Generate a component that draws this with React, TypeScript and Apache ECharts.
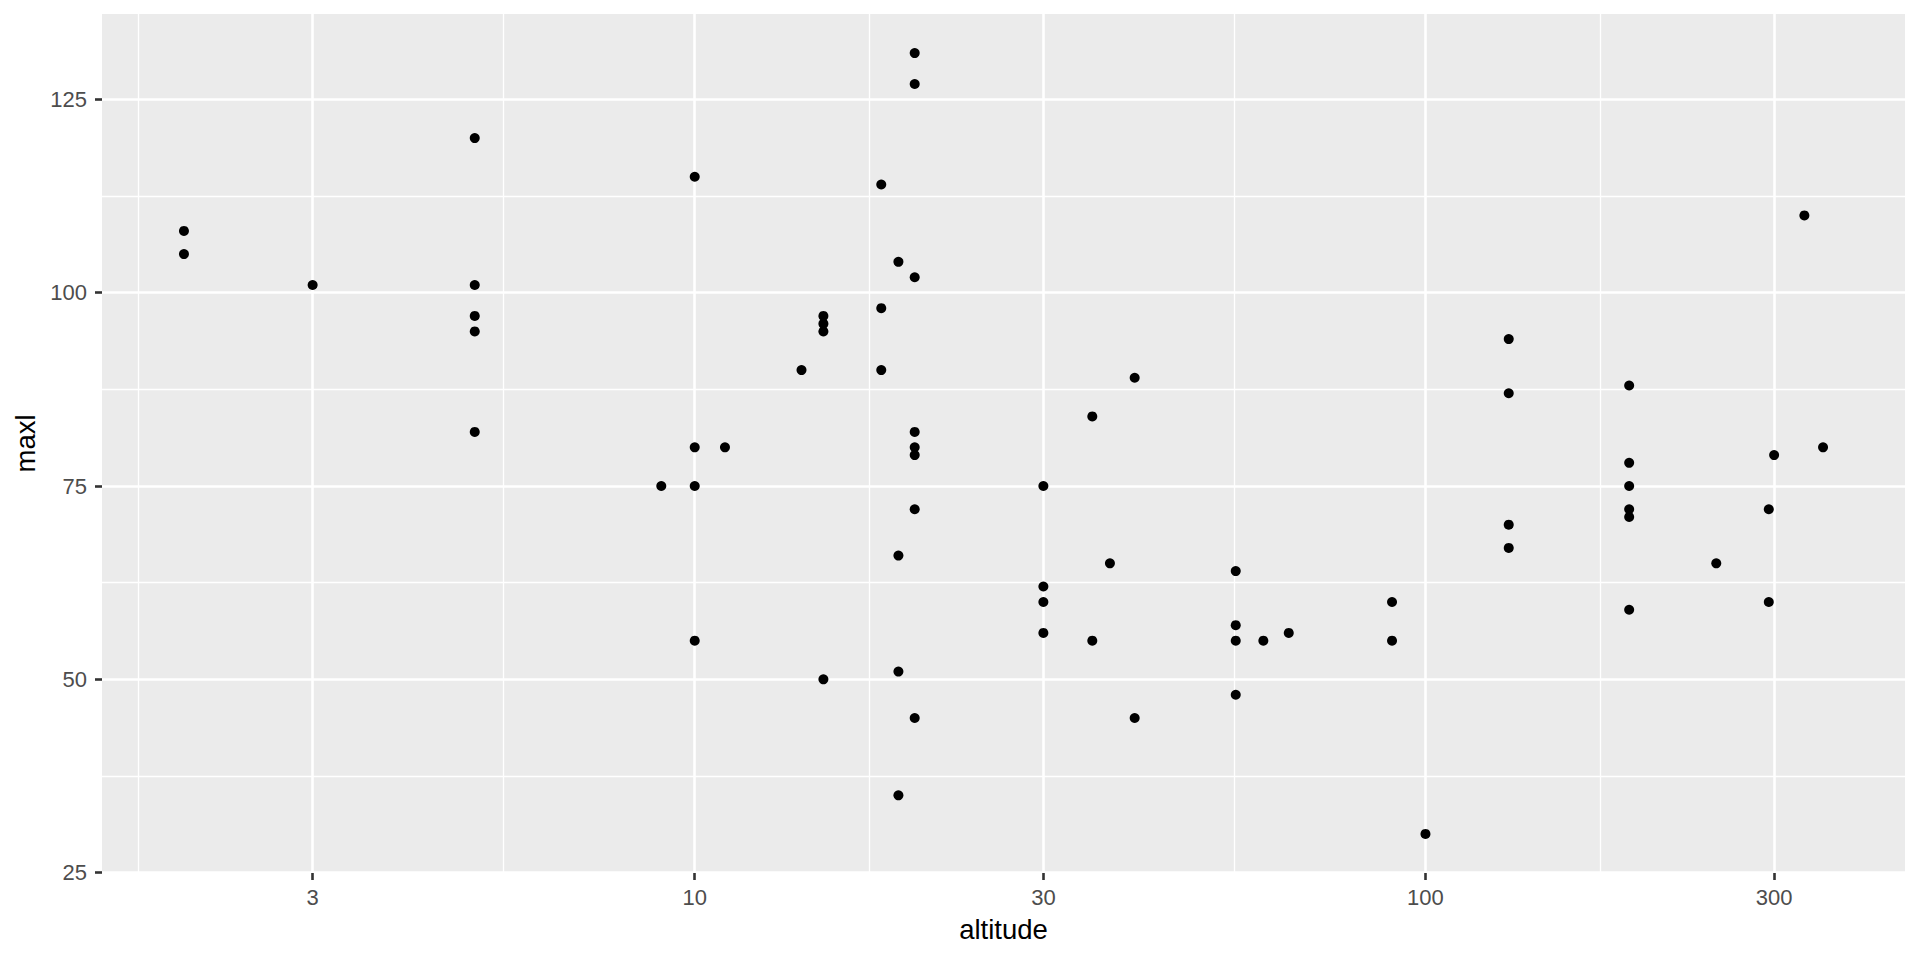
import React, { useEffect, useRef } from "react";
import * as echarts from "echarts";

// ---- data ----
const altitude = [
  2, 2, 3, 5, 5, 5, 5, 5, 9, 10, 10, 10, 10, 11, 14, 15, 15, 15, 15, 18, 18, 18,
  19, 19, 19, 19, 20, 20, 20, 20, 20, 20, 20, 20, 30, 30, 30, 30, 35, 35, 37, 40,
  40, 55, 55, 55, 55, 60, 65, 90, 90, 100, 130, 130, 130, 130, 190, 190, 190, 190,
  190, 190, 250, 295, 295, 300, 330, 350,
];
const maxl = [
  108, 105, 101, 120, 101, 97, 95, 82, 75, 115, 80, 75, 55, 80, 90, 97, 96, 95, 50,
  114, 98, 90, 104, 66, 51, 35, 131, 127, 102, 82, 80, 79, 72, 45, 75, 62, 60, 56,
  84, 55, 65, 89, 45, 64, 57, 55, 48, 55, 56, 60, 55, 30, 94, 87, 70, 67, 88, 78,
  75, 72, 71, 59, 65, 72, 60, 79, 110, 80,
];
const xTickLabels = [3, 10, 30, 100, 300];
// full break sequence (incl. out-of-range 1 and 1000) used for minor grid lines
const xBreakSeq = [1, 3, 10, 30, 100, 300, 1000];
const yTickLabels = [25, 50, 75, 100, 125];
const yBreakSeq = [25, 50, 75, 100, 125, 150];

const FONT = "'Liberation Sans', Arial, sans-serif";

export default function App() {
  const ref = useRef<HTMLDivElement>(null);

  useEffect(() => {
    if (!ref.current) return;
    const chart = echarts.init(ref.current, undefined, { renderer: "svg" });

    // log10 transform of x (like scale_x_log10)
    const lx = altitude.map((a) => Math.log10(a));
    const xLo = Math.min(...lx);
    const xHi = Math.max(...lx);
    const xPad = (xHi - xLo) * 0.05;
    const xMin = xLo - xPad;
    const xMax = xHi + xPad;
    const yLo = Math.min(...maxl);
    const yHi = Math.max(...maxl);
    const yPad = (yHi - yLo) * 0.05;
    const yMin = yLo - yPad;
    const yMax = yHi + yPad;

    const xMajor = xTickLabels.map((v) => Math.log10(v));
    const xSeqLog = xBreakSeq.map((v) => Math.log10(v));
    const xMinor: number[] = [];
    for (let i = 0; i < xSeqLog.length - 1; i++) {
      const m = (xSeqLog[i] + xSeqLog[i + 1]) / 2;
      if (m > xMin && m < xMax) xMinor.push(m);
    }
    const yMinor: number[] = [];
    for (let i = 0; i < yBreakSeq.length - 1; i++) {
      const m = (yBreakSeq[i] + yBreakSeq[i + 1]) / 2;
      if (m > yMin && m < yMax) yMinor.push(m);
    }

    const points = altitude.map((a, i) => [Math.log10(a), maxl[i]]);

    chart.setOption({
      animation: false,
      backgroundColor: "#FFFFFF",
      grid: {
        left: 102,
        right: 15,
        top: 14,
        bottom: 87,
        show: true,
        backgroundColor: "#EBEBEB",
        borderWidth: 0,
        outerBoundsMode: "none",
      },
      xAxis: [
        {
          type: "value",
          min: xMin,
          max: xMax,
          position: "bottom",
          name: "altitude",
          nameLocation: "middle",
          nameGap: 42,
          nameTextStyle: { color: "#000000", fontSize: 27.5, fontFamily: FONT },
          axisLine: { show: false },
          axisTick: {
            show: true,
            length: 7,
            customValues: xMajor,
            lineStyle: { color: "#333333", width: 2.6 },
          },
          axisLabel: {
            customValues: xMajor,
            formatter: (v: number) => String(Math.round(Math.pow(10, v))),
            color: "#4D4D4D",
            fontSize: 22,
            fontFamily: FONT,
            margin: 13,
          },
          splitLine: { show: true, lineStyle: { color: "#FFFFFF", width: 2.6 } },
          z: 1,
        },
        {
          type: "value",
          min: xMin,
          max: xMax,
          position: "bottom",
          axisLine: { show: false },
          axisTick: { show: false, customValues: xMinor },
          axisLabel: { show: false, customValues: xMinor },
          splitLine: { show: true, lineStyle: { color: "#FFFFFF", width: 1.3 } },
          z: 0,
        },
      ],
      yAxis: [
        {
          type: "value",
          min: yMin,
          max: yMax,
          position: "left",
          name: "maxl",
          nameLocation: "middle",
          nameGap: 61,
          nameTextStyle: { color: "#000000", fontSize: 27.5, fontFamily: FONT },
          axisLine: { show: false },
          axisTick: {
            show: true,
            length: 7,
            customValues: yTickLabels,
            lineStyle: { color: "#333333", width: 2.6 },
          },
          axisLabel: {
            customValues: yTickLabels,
            color: "#4D4D4D",
            fontSize: 22,
            fontFamily: FONT,
            margin: 15,
          },
          splitLine: { show: true, lineStyle: { color: "#FFFFFF", width: 2.6 } },
          z: 1,
        },
        {
          type: "value",
          min: yMin,
          max: yMax,
          position: "left",
          axisLine: { show: false },
          axisTick: { show: false, customValues: yMinor },
          axisLabel: { show: false, customValues: yMinor },
          splitLine: { show: true, lineStyle: { color: "#FFFFFF", width: 1.3 } },
          z: 0,
        },
      ],
      series: [
        {
          type: "scatter",
          xAxisIndex: 0,
          yAxisIndex: 0,
          data: points,
          symbol: "circle",
          symbolSize: 10,
          itemStyle: { color: "#000000", opacity: 1 },
          silent: true,
          z: 5,
        },
      ],
    });

    return () => {
      chart.dispose();
    };
  }, []);

  return (
    <div
      ref={ref}
      style={{ position: "fixed", left: 0, top: 0, width: 1920, height: 960 }}
    />
  );
}
